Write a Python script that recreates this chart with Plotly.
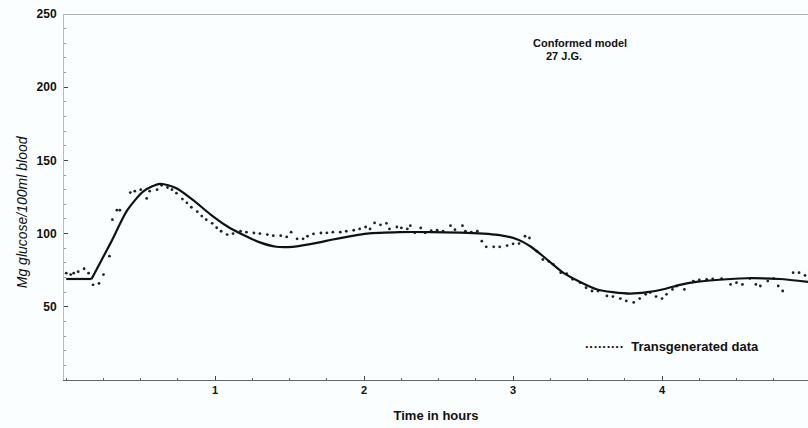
import plotly.graph_objects as go

# Model curve (Conformed model 27 J.G.)
model_t = [0, 0.17, 0.30, 0.41, 0.52, 0.63, 0.74, 0.85, 0.97, 1.08, 1.19, 1.30, 1.41, 1.52,
           1.70, 1.79, 2.02, 2.24, 2.46, 2.69, 2.91, 3.03, 3.12, 3.22, 3.34, 3.45, 3.56,
           3.67, 3.79, 3.90, 4.01, 4.12, 4.23, 4.46, 4.57, 4.79, 4.98]
model_v = [69, 69, 94, 116, 129, 134, 131, 123, 113, 105, 99, 94, 91, 91,
           94, 96, 100, 101, 101, 100.5, 99, 96, 91, 83, 73, 67, 62,
           60, 59, 60, 62, 65, 67, 69, 69.5, 69, 67]

# Transgenerated data (dotted)
data_t = [0.00, 0.03, 0.05, 0.08, 0.12, 0.15, 0.18, 0.22, 0.25, 0.29, 0.31, 0.34, 0.36,
          0.43, 0.46, 0.50, 0.54, 0.56, 0.61, 0.64, 0.68, 0.71, 0.74, 0.78, 0.81, 0.84,
          0.88, 0.91, 0.94, 0.98, 1.01, 1.04, 1.08, 1.12, 1.17, 1.21, 1.26, 1.30, 1.35,
          1.39, 1.44, 1.48, 1.51, 1.55, 1.59, 1.62, 1.66, 1.71, 1.75, 1.79, 1.84, 1.88,
          1.93, 1.97, 2.01, 2.04, 2.07, 2.11, 2.15, 2.17, 2.22, 2.25, 2.29, 2.31, 2.34,
          2.38, 2.41, 2.45, 2.49, 2.53, 2.58, 2.61, 2.66, 2.68, 2.72, 2.76, 2.79, 2.82,
          2.87, 2.91, 2.96, 3.00, 3.04, 3.08, 3.11, 3.16, 3.20, 3.24, 3.27, 3.32, 3.36,
          3.40, 3.45, 3.49, 3.53, 3.57, 3.63, 3.67, 3.72, 3.76, 3.81, 3.85, 3.89, 3.92,
          3.96, 4.00, 4.03, 4.07, 4.10, 4.15, 4.21, 4.25, 4.30, 4.34, 4.40, 4.46, 4.50,
          4.54, 4.59, 4.63, 4.66, 4.71, 4.75, 4.78, 4.81, 4.88, 4.92, 4.96]
data_v = [73, 72, 73, 74, 76, 73, 65, 66, 72, 84.6, 109.5, 116, 116,
          128, 129, 130, 124, 129, 130, 133, 131.5, 130, 127.6, 123.6, 121, 118,
          115, 112, 109.5, 107, 104, 101.6, 99.3, 100, 101.6, 101, 100.4, 100, 99.3,
          98.6, 98.6, 97.7, 101, 96.4, 96.4, 98.2, 99.8, 100.4, 100.5, 101, 101, 101.6,
          102.3, 103.2, 104.5, 103.2, 107.3, 106, 107, 103.2, 104.5, 103.9, 103.2, 105.4, 100.5,
          103.9, 100.5, 102, 102.3, 101.6, 105.4, 102.7, 105.4, 101.6, 101, 101.6, 94.8, 91,
          91, 91, 91.8, 93, 93.2, 98.2, 97, 88, 82.3, 81, 79, 73.3, 72.6,
          68.8, 66.5, 63, 60.8, 60.8, 57.4, 57, 55.6, 54, 53, 55.6, 58.5, 59.7,
          57, 55.6, 58.5, 61.9, 64.2, 61.9, 67.6, 68.3, 68.8, 69, 69.2, 65.3, 66.5,
          65.3, 69.4, 65.3, 64.2, 67.6, 69.2, 64.2, 60.8, 73.3, 73.3, 71.4]

x_ticks = [1, 2, 3, 4]
y_ticks = [50, 100, 150, 200, 250]

FONT = "Liberation Sans"
INK = "#111"

fig = go.Figure()
fig.add_trace(go.Scatter(x=data_t, y=data_v, mode="markers",
                         marker=dict(size=2.8, color="#222"), showlegend=False))
# flat baseline part of the model (linear), then the smooth response
fig.add_trace(go.Scatter(x=model_t[:2], y=model_v[:2], mode="lines",
                         line=dict(color=INK, width=2.2), showlegend=False))
fig.add_trace(go.Scatter(x=model_t[1:], y=model_v[1:], mode="lines",
                         line=dict(color=INK, width=2.2, shape="spline", smoothing=0.7),
                         showlegend=False))

fig.update_layout(
    width=808, height=428,
    margin=dict(l=64, r=0, t=14, b=48),
    paper_bgcolor="#fbfefe", plot_bgcolor="#fbfefe",
    font=dict(family=FONT, color=INK),
    xaxis=dict(range=[-0.015, 4.98], tickvals=x_ticks, ticktext=[str(v) for v in x_ticks],
               showgrid=False, zeroline=False, showline=True, linecolor="#666", linewidth=1,
               ticks="inside", ticklen=4, tickcolor="#444",
               minor=dict(dtick=0.25, ticks="inside", ticklen=2, tickcolor="#666"),
               tickfont=dict(size=11, family=FONT, weight="bold"),
               title=dict(text="Time in hours", font=dict(size=13, family=FONT, weight="bold"),
                          standoff=15)),
    yaxis=dict(range=[0, 250], tickvals=y_ticks, ticktext=[str(v) for v in y_ticks],
               showgrid=False, zeroline=False, showline=True, linecolor="#bbb", linewidth=1,
               ticks="inside", ticklen=4, tickcolor="#444",
               minor=dict(dtick=10, ticks="inside", ticklen=2, tickcolor="#999"),
               tickfont=dict(size=12, family=FONT, weight="bold"),
               ticklabelstandoff=4),
    shapes=[dict(type="line", xref="paper", yref="y", x0=0, x1=1, y0=250, y1=250,
                 line=dict(color="#999", width=1.5))],
    annotations=[
        dict(text="<i>Mg glucose/100ml blood</i>", xref="paper", yref="paper",
             x=-0.057, y=0.46, xanchor="center", yanchor="middle", textangle=-90,
             showarrow=False, font=dict(size=14, family=FONT)),
        dict(text="Conformed model", xref="x", yref="y", x=3.45, y=230,
             showarrow=False, font=dict(size=11, family=FONT, weight="bold")),
        dict(text="27 J.G.", xref="x", yref="y", x=3.34, y=221,
             showarrow=False, font=dict(size=11, family=FONT, weight="bold")),
        dict(text="·········  Transgenerated data", xref="x", yref="y", x=4.07, y=23,
             showarrow=False, font=dict(size=13, family=FONT, weight="bold")),
    ],
)

fig.write_html("out.html")
